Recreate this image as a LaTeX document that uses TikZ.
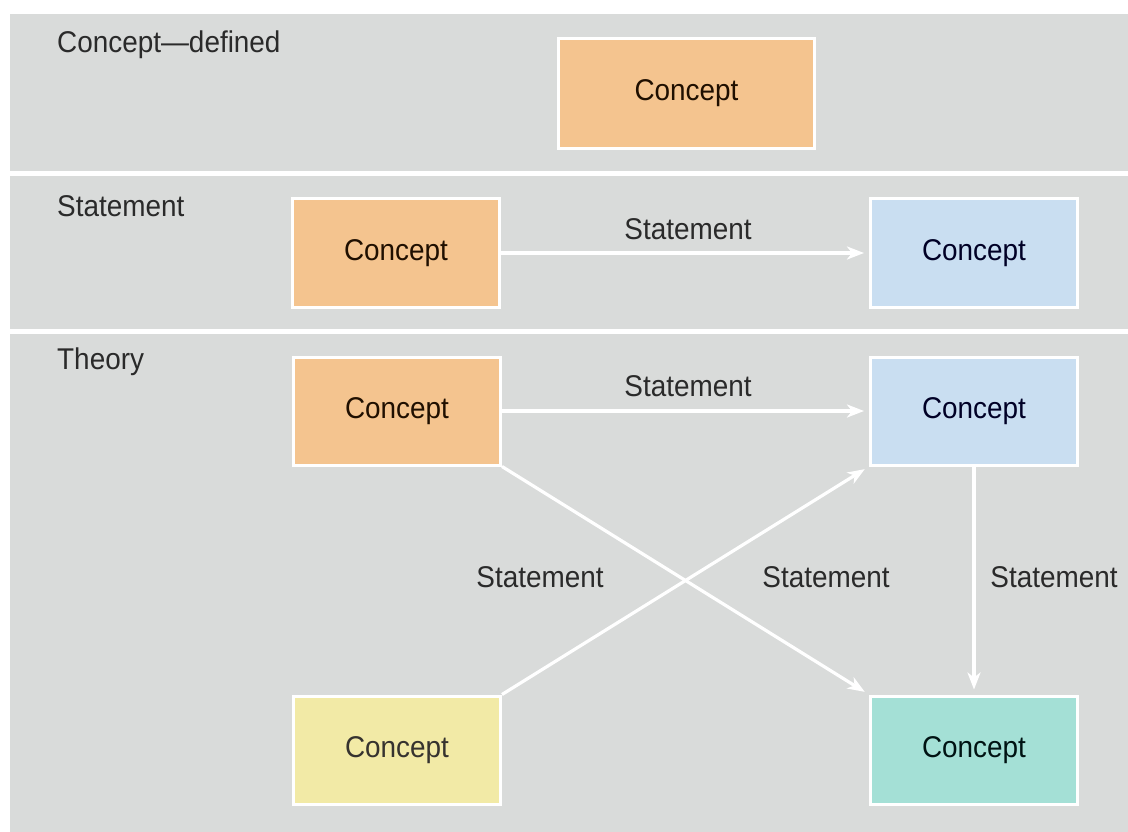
\documentclass[tikz,border=0pt]{standalone}
\usepackage{fontspec}
\setmainfont{Liberation Sans}[FakeStretch=0.93]
\usetikzlibrary{arrows.meta}

\definecolor{bandgray}{HTML}{D9DBDA}
\definecolor{orangefill}{HTML}{F4C48F}
\definecolor{bluefill}{HTML}{C9DEF1}
\definecolor{yellowfill}{HTML}{F2EAA6}
\definecolor{tealfill}{HTML}{A4E0D6}
\definecolor{labeltext}{HTML}{2A2A2A}

\tikzset{
  conceptbox/.style={draw=white, line width=3pt, minimum width=207pt,
    minimum height=108pt, inner sep=0pt, font=\fontsize{30}{36}\selectfont},
  orangebox/.style={conceptbox, fill=orangefill, text=black!80!orange!60!black},
  bluebox/.style={conceptbox, fill=bluefill, text=black!85!blue},
  yellowbox/.style={conceptbox, fill=yellowfill, text=black!85!yellow!60!black},
  tealbox/.style={conceptbox, fill=tealfill, text=black!85!teal},
  rowlabel/.style={anchor=west, text=labeltext, inner sep=0pt,
    font=\fontsize{30}{36}\selectfont},
  stmt/.style={text=labeltext, inner sep=0pt, font=\fontsize{30}{36}\selectfont},
  link/.style={draw=white, line width=3.2pt,
    -{Stealth[length=17pt, width=13pt, inset=5pt]}, shorten >=5pt}
}

\begin{document}
\begin{tikzpicture}[x=1pt, y=-1pt]
  % page and the three gray bands
  \fill[white] (0,0) rectangle (1128,832);
  \useasboundingbox (0,0) rectangle (1128,832);
  \fill[bandgray] (10,14) rectangle (1128,171);
  \fill[bandgray] (10,176) rectangle (1128,329);
  \fill[bandgray] (10,334) rectangle (1128,832);

  % band titles
  \node[rowlabel] (tdef) at (57,45) {Concept—defined};
  \node[rowlabel] (tstmt) at (57,206) {Statement};
  \node[rowlabel] (tthe) at (57,362) {Theory};

  % concept defined
  \node[orangebox, minimum width=256pt, minimum height=110pt] (cdef) at (686.5,93.5) {Concept};

  % statement
  \node[orangebox, minimum height=109pt] (sa) at (396,253) {Concept};
  \node[bluebox, minimum height=109pt] (sb) at (974,253) {Concept};
  \draw[link] (sa) -- (sb);
  \node[stmt] (sl) at (688,229) {Statement};

  % theory
  \node[orangebox] (ta) at (397,411) {Concept};
  \node[bluebox] (tb) at (974,411) {Concept};
  \node[yellowbox] (tc) at (397,750) {Concept};
  \node[tealbox] (td) at (974,750) {Concept};

  \draw[link] (ta) -- (tb);
  \draw[link] (ta.south east) -- (td.north west);
  \draw[link] (tc.north east) -- (tb.south west);
  \draw[link] (tb.south) -- (td.north);

  \node[stmt] (tl1) at (688,386) {Statement};
  \node[stmt] (tl2) at (540,577) {Statement};
  \node[stmt] (tl3) at (826,577) {Statement};
  \node[stmt] (tl4) at (1054,577) {Statement};
\end{tikzpicture}
\end{document}
